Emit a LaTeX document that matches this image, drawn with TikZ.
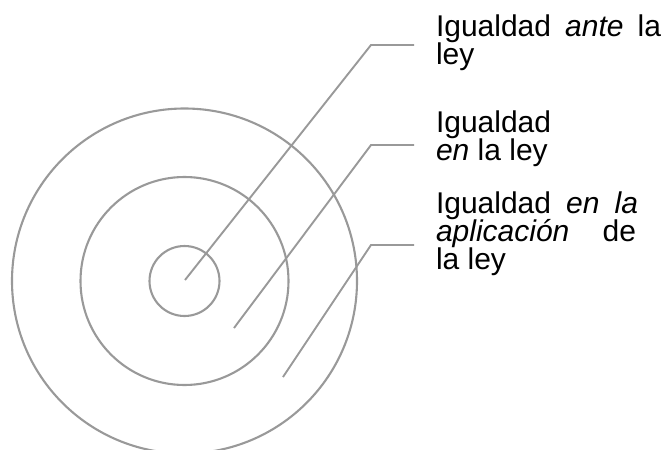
\documentclass[tikz,border=0pt]{standalone}
\usepackage{fontspec}
\setmainfont{Liberation Sans}
\definecolor{ringgray}{HTML}{999999}
\begin{document}
\begin{tikzpicture}[x=1pt,y=-1pt,
  ring/.style={circle,draw=ringgray,line width=2.1pt,inner sep=0pt},
  leader/.style={draw=ringgray,line width=1.9pt},
  txt/.style={anchor=base west,inner sep=0pt,outer sep=0pt,text=black,font=\fontsize{30}{28}\selectfont}]
\useasboundingbox (0,0) rectangle (665,450);
\coordinate (c) at (184.5,281);
\node[ring,minimum size=70pt] (inner) at (c) {};
\node[ring,minimum size=208pt] (middle) at (c) {};
\node[ring,minimum size=345pt] (outer) at (c) {};
% leaders
\coordinate (e1) at (185,280);
\coordinate (b1) at (371,45);
\coordinate (h1) at (414,45);
\coordinate (e2) at (234,328);
\coordinate (b2) at (371,145);
\coordinate (h2) at (414,145);
\coordinate (e3) at (283,377);
\coordinate (b3) at (371,245);
\coordinate (h3) at (414,245);
\draw[leader] (e1) -- (b1) -- (h1);
\draw[leader] (e2) -- (b2) -- (h2);
\draw[leader] (e3) -- (b3) -- (h3);
% texts
\node[txt] (t1a) at (436,36) {\hbox to 225pt{Igualdad\hfill\textit{ante}\hfill la}};
\node[txt] (t1b) at (436,64) {ley};
\node[txt] (t2a) at (436,132) {Igualdad};
\node[txt] (t2b) at (436,160) {\textit{en} la ley};
\node[txt] (t3a) at (436,213) {\hbox to 202pt{Igualdad\hfill\textit{en}\hfill\textit{la}}};
\node[txt] (t3b) at (436,241) {\hbox to 200pt{\textit{aplicación}\hfill de}};
\node[txt] (t3c) at (436,269) {la ley};
\end{tikzpicture}
\end{document}
